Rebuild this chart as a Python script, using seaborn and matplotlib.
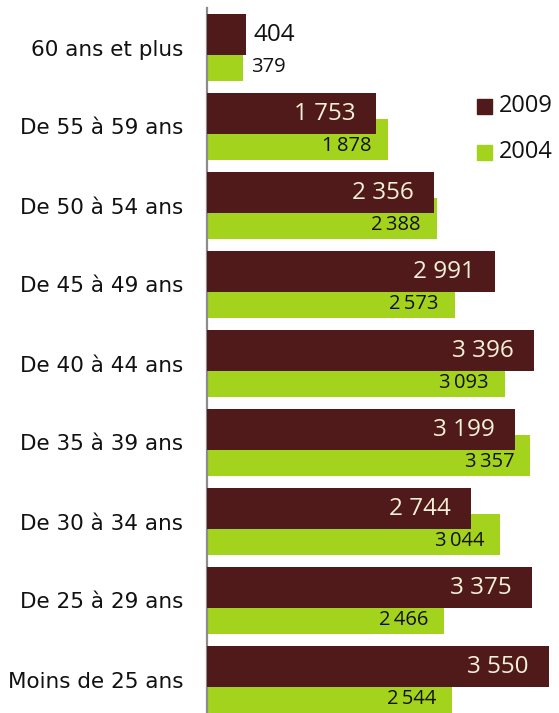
import matplotlib
matplotlib.use("Agg")
import matplotlib.pyplot as plt
from matplotlib.patches import Rectangle
import seaborn as sns
import pandas as pd

categories = ["60 ans et plus", "De 55 à 59 ans", "De 50 à 54 ans", "De 45 à 49 ans",
              "De 40 à 44 ans", "De 35 à 39 ans", "De 30 à 34 ans", "De 25 à 29 ans",
              "Moins de 25 ans"]
v2009 = [404, 1753, 2356, 2991, 3396, 3199, 2744, 3375, 3550]
v2004 = [379, 1878, 2388, 2573, 3093, 3357, 3044, 2466, 2544]
years = ["2009", "2004"]
colors = {"2009": "#4f1a19", "2004": "#a3d31c"}

df = pd.DataFrame({
    "cat": categories * 2,
    "val": v2009 + v2004,
    "year": ["2009"] * len(categories) + ["2004"] * len(categories),
})

sns.set_theme(style="white")
plt.rcParams["font.family"] = ["Open Sans", "DejaVu Sans"]

W, H = 559, 713
fig = plt.figure(figsize=(W / 100, H / 100), dpi=100)
step = 79.0
top_px = 8.0
ax_h = 9 * step
ax = fig.add_axes([207 / W, (H - top_px - ax_h) / H, (W - 207) / W, ax_h / H])

sns.barplot(data=df, y="cat", x="val", hue="year", hue_order=years, order=categories,
            palette=colors, orient="h", dodge=True, width=1.0, ax=ax, legend=False,
            saturation=1, linewidth=0)

n = len(categories)
bh = 0.52
for k, p in enumerate(ax.patches[:2 * n]):
    i = k % n
    if k < n:  # 2009
        p.set_y(i - 0.42)
        p.set_height(bh)
        p.set_zorder(3)
    else:
        p.set_y(i - 0.10)
        p.set_height(bh)
        p.set_zorder(2)

ax.set_xlim(0, (W - 207) / 0.0963)
ax.set_ylim(n - 0.5, -0.5)
ax.set_xlabel("")
ax.set_ylabel("")
ax.set_xticks([])
ax.tick_params(axis="y", length=0, pad=17)
for lbl in ax.get_yticklabels():
    lbl.set_fontfamily("DejaVu Sans")
    lbl.set_fontsize(15.5)
    lbl.set_color("#111111")
for s in ["top", "right", "bottom"]:
    ax.spines[s].set_visible(False)
ax.spines["left"].set_color("#8c8c8c")
ax.spines["left"].set_linewidth(1.6)


def fmt(v, sep):
    s = f"{v:,}"
    return s.replace(",", sep)


px_per_unit = 0.0963
for i in range(n):
    a, b = v2009[i], v2004[i]
    ya = i - 0.42 + bh / 2
    yb = i - 0.10 + 0.09 + bh / 2
    if a < 1000:
        ax.text(a + 8 / px_per_unit, ya, fmt(a, " "), ha="left", va="center",
                fontsize=17.5, color="#111111", zorder=5)
    else:
        ax.text(a - 20 / px_per_unit, ya, fmt(a, " "), ha="right", va="center",
                fontsize=17.5, color="#f5f0d8", zorder=5)
    if b < 1000:
        ax.text(b + 8 / px_per_unit, yb, fmt(b, " "), ha="left", va="center",
                fontsize=14.5, color="#111111", zorder=5)
    else:
        ax.text(b - 16 / px_per_unit, yb, fmt(b, "\u2009"), ha="right", va="center",
                fontsize=14.5, color="#111111", zorder=5)

# legend
for lab, yc in [("2009", 106), ("2004", 152)]:
    fig.patches.append(Rectangle((477 / W, (H - yc - 7.5) / H), 15 / W, 15 / H,
                                 transform=fig.transFigure, color=colors[lab]))
    fig.text(499 / W, (H - yc) / H, lab, ha="left", va="center", fontsize=17,
             color="#111111")

fig.savefig("out.png", dpi=100)
